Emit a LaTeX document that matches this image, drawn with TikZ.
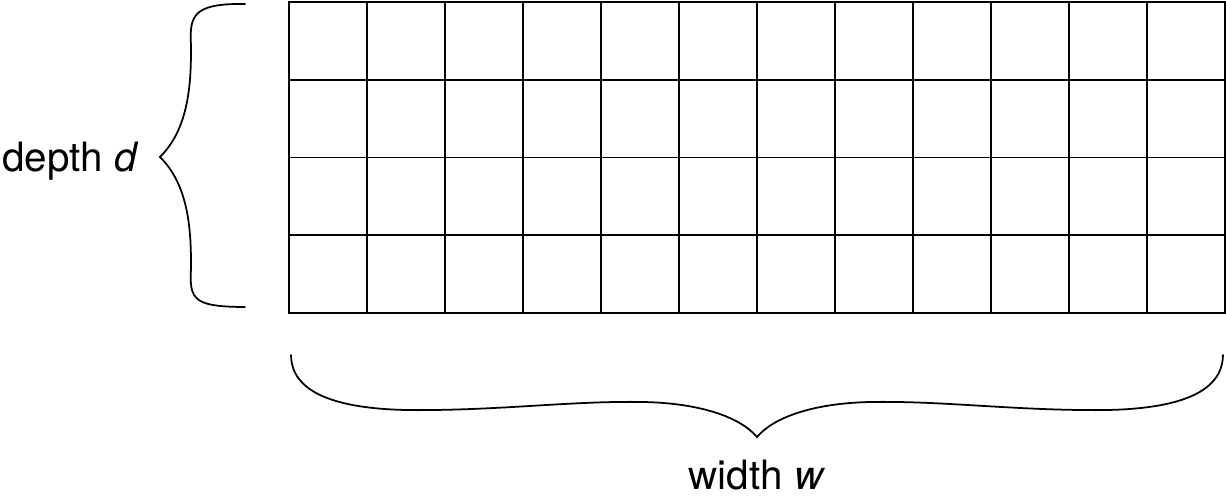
\documentclass[tikz,border=0pt]{standalone}
\usepackage{fontspec}
\setmainfont{TeX Gyre Heros}
\tikzset{
	cellline/.style = {line width = 1.1pt},
	braceline/.style = {line width = 1pt, line cap = round},
	label/.style = {font = \fontsize{23}{27}\selectfont, inner sep = 0pt}
}
\begin{document}
\begin{tikzpicture} [x = 1.56cm, y = 1.56cm]
	\useasboundingbox (-3.705,-2.397) rectangle (12.013,4.013);
	% the table: w columns, d rows
	\draw [cellline] (0,0) rectangle (12,3.987);
	\foreach \col in {1,...,11}
		\draw [cellline] (\col,0) -- (\col,3.987);
	\foreach \row in {1,2,3}
		\draw [cellline] (0,\row*0.99675) -- (12,\row*0.99675);
	% brace for the depth
	\draw [braceline] (-0.564,3.962) .. controls (-1.15,3.97) and (-1.26,3.85) .. (-1.26,3.55)
		.. controls (-1.24,2.9) and (-1.3,2.35) .. (-1.654,2.0)
		.. controls (-1.3,1.65) and (-1.24,1.1) .. (-1.26,0.45)
		.. controls (-1.26,0.15) and (-1.15,0.08) .. (-0.564,0.077);
	% brace for the width
	\draw [braceline] (0.026,-0.538) .. controls (0.03,-1.1) and (0.8,-1.25) .. (1.7,-1.245)
		.. controls (2.8,-1.24) and (3.6,-1.13) .. (4.5,-1.14)
		.. controls (5.3,-1.15) and (5.8,-1.35) .. (6,-1.59)
		.. controls (6.2,-1.35) and (6.7,-1.15) .. (7.5,-1.14)
		.. controls (8.4,-1.13) and (9.2,-1.24) .. (10.3,-1.245)
		.. controls (11.2,-1.25) and (11.97,-1.1) .. (11.974,-0.538);
	\node [label, anchor = base west] (depth) at (-3.68,1.808) {depth \textit{d}};
	\node [label, anchor = base] (width) at (6,-2.269) {width \textit{w}};
\end{tikzpicture}
\end{document}
